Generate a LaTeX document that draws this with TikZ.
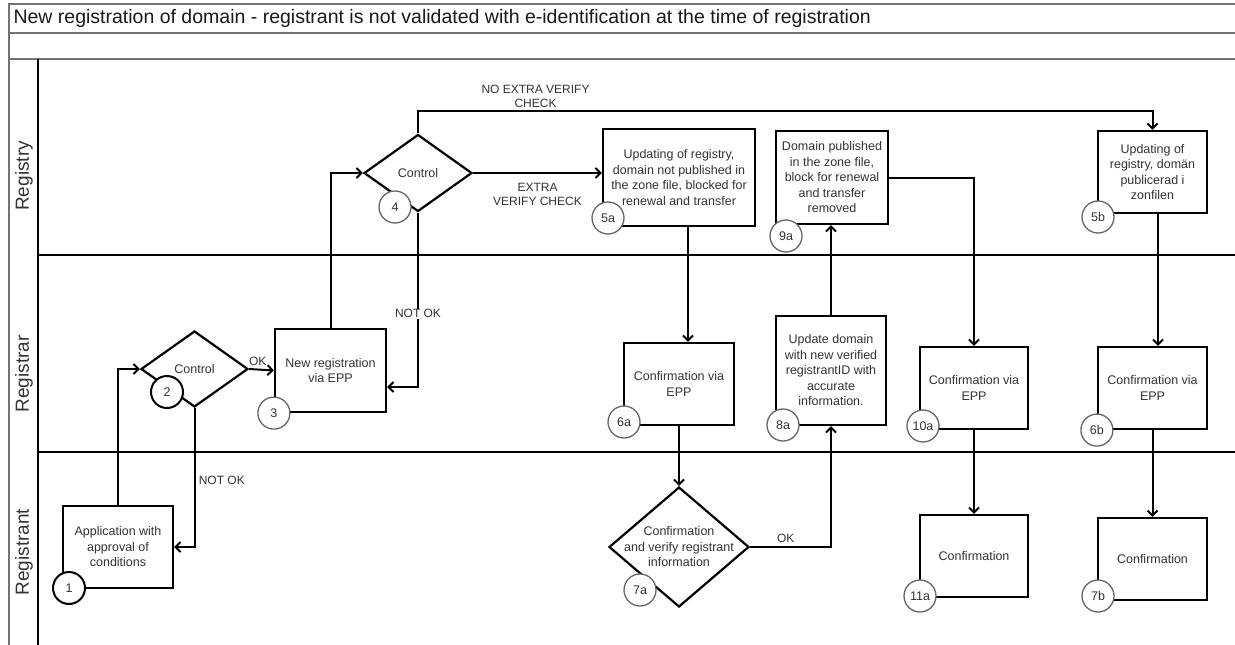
\documentclass[tikz,border=0pt]{standalone}
\usepackage{fontspec}
\setmainfont{Liberation Sans}
\usetikzlibrary{positioning,calc,shapes.geometric,arrows.meta}

\begin{document}
\begin{tikzpicture}[
    x=1pt, y=-1pt,
    every node/.style={text=black!80, font=\fontsize{12.5}{15.5}\selectfont},
    box/.style={draw=black, line width=2.2pt, fill=white, align=center, inner sep=2pt},
    decision/.style={diamond, draw=black, line width=2.2pt, fill=white, inner sep=0pt},
    stepnum/.style={circle, draw=black!60, line width=1.3pt, fill=white, minimum size=32pt, inner sep=0pt, font=\fontsize{12.5}{12.5}\selectfont},
    flow/.style={-{Straight Barb[length=5pt,width=10pt]}, line width=2pt},
    lbl/.style={align=center, font=\fontsize{12}{14}\selectfont},
    lane/.style={line width=2.6pt, black},
    frame/.style={line width=2pt, black!55}
]
    \useasboundingbox (0,0) rectangle (1235,645);

    % pool and lanes
    \draw[frame] (1235,4) -- (9,4) -- (9,645);
    \draw[frame] (9,33) -- (1235,33);
    \draw[frame] (9,59) -- (1235,59);
    \draw[lane] (38,59) -- (38,645);
    \draw[lane] (38,255) -- (1235,255);
    \draw[lane] (38,452) -- (1235,452);

    \node[anchor=west, text=black!90, font=\fontsize{19.5}{19.5}\selectfont] (title) at (10,18) {New registration of domain - registrant is not validated with e-identification at the time of registration};
    \node[rotate=90, font=\fontsize{19}{19}\selectfont] (registry) at (24,176) {Registry};
    \node[rotate=90, font=\fontsize{19}{19}\selectfont] (registrar) at (24,374) {Registrar};
    \node[rotate=90, font=\fontsize{19}{19}\selectfont] (registrant) at (24,552) {Registrant};

    % steps
    \node[box, minimum width=110pt, minimum height=82pt] (b1) at (118,547) {Application with\\approval of\\conditions};
    \node[decision, minimum width=107pt, minimum height=76pt] (d2) at (194.5,369) {Control};
    \node[box, minimum width=111pt, minimum height=83pt] (b3) at (330.5,370.5) {New registration\\via EPP};
    \node[decision, minimum width=108pt, minimum height=77pt] (d4) at (418,173) {Control};
    \node[box, minimum width=152pt, minimum height=97pt] (b5a) at (679,177.5) {Updating of registry,\\domain not published in\\the zone file, blocked for\\renewal and transfer};
    \node[box, minimum width=112pt, minimum height=93pt] (b9a) at (832,177.5) {Domain published\\in the zone file,\\block for renewal\\and transfer\\removed};
    \node[box, minimum width=109pt, minimum height=82pt] (b5b) at (1152.5,172) {Updating of\\registry, domän\\publicerad i\\zonfilen};
    \node[box, minimum width=110pt, minimum height=82pt] (b6a) at (679,384) {Confirmation via\\EPP};
    \node[decision, minimum width=140pt, minimum height=120pt] (d7a) at (679,547) {};
    \node[lbl, font=\fontsize{12.5}{15.5}\selectfont] (t7a) at (d7a) {Confirmation\\and verify registrant\\information};
    \node[box, minimum width=110pt, minimum height=109pt] (b8a) at (831,370.5) {Update domain\\with new verified\\registrantID with\\accurate\\information.};
    \node[box, minimum width=108pt, minimum height=82pt] (b10a) at (974,388) {Confirmation via\\EPP};
    \node[box, minimum width=109pt, minimum height=82pt] (b6b) at (1152.5,388) {Confirmation via\\EPP};
    \node[box, minimum width=108pt, minimum height=82pt] (b11a) at (974,556) {Confirmation};
    \node[box, minimum width=109pt, minimum height=82pt] (b7b) at (1152.5,559) {Confirmation};

    % flows
    \draw[flow] (b1.north) |- (d2.west);
    \draw[flow] (d2.east) -- node[lbl, above, pos=.35] (ok1) {OK} (b3.west);
    \draw[flow] (d2.south) |- node[lbl, right, pos=.26] (nok1) {NOT OK} (b1.east);
    \draw[flow] (b3.north) |- (d4.west);
    \draw[flow] (d4.south) |- node[lbl, fill=white, inner sep=1pt, pos=.29] (nok2) {NOT OK} ([yshift=-16.5pt]b3.east);
    \draw[flow] (d4.east) -- node[lbl, below, yshift=-6pt] (extra) {EXTRA\\VERIFY CHECK} (d4.east -| b5a.west);
    \draw[flow] (d4.north) -- ++(0,-22) -| node[lbl, above, pos=.08, yshift=-1pt] (noextra) {NO EXTRA VERIFY\\CHECK} (b5b.north);
    \draw[flow] ([xshift=9pt]b5a.south) -- ([xshift=9pt]b6a.north);
    \draw[flow] (b6a.south) -- (d7a.north);
    \draw[flow] (d7a.east) -| node[lbl, above, pos=.22] (ok2) {OK} (b8a.south);
    \draw[flow] (b8a.north) -- (b8a.north |- b9a.south);
    \draw[flow] (b9a.east) -| (b10a.north);
    \draw[flow] (b10a.south) -- (b11a.north);
    \draw[flow] ([xshift=5.5pt]b5b.south) -- ([xshift=5.5pt]b6b.north);
    \draw[flow] (b6b.south) -- (b7b.north);

    % step numbers
    \node[stepnum, draw=black, line width=2pt] (c1) at (69,588) {1};
    \node[stepnum, draw=black, line width=2pt] (c2) at (167,392) {2};
    \node[stepnum] (c3) at (b3.south west) {3};
    \node[stepnum] (c4) at (395,207) {4};
    \node[stepnum] (c5a) at (608,218) {5a};
    \node[stepnum] (c9a) at (786,236) {9a};
    \node[stepnum] (c5b) at (1098,217) {5b};
    \node[stepnum] (c6a) at (624,422) {6a};
    \node[stepnum] (c8a) at (783,425) {8a};
    \node[stepnum] (c10a) at (923,426) {10a};
    \node[stepnum] (c6b) at (b6b.south west) {6b};
    \node[stepnum] (c7a) at (640,590) {7a};
    \node[stepnum] (c11a) at (920,596) {11a};
    \node[stepnum] (c7b) at (1098,596) {7b};
\end{tikzpicture}
\end{document}
